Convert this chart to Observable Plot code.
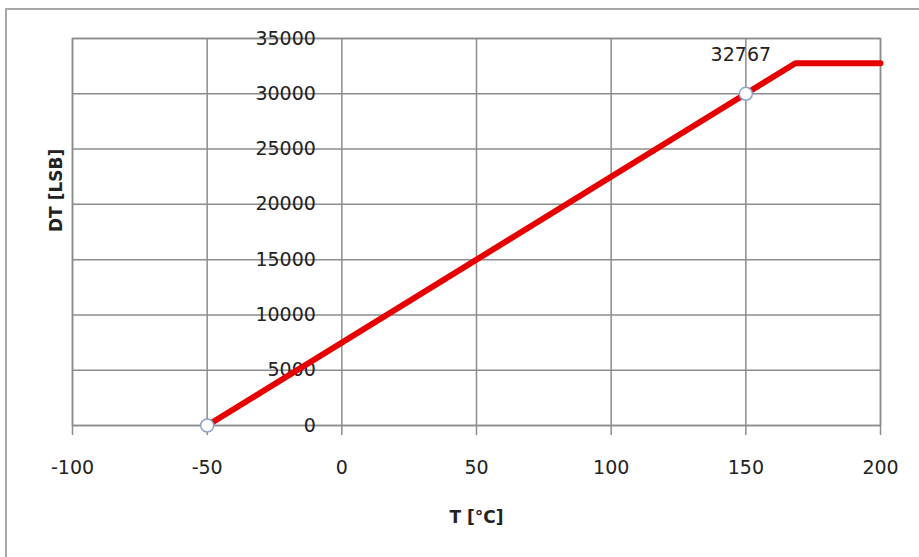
<!DOCTYPE html>
<html>
<head>
<meta charset="utf-8">
<script src="https://cdn.jsdelivr.net/npm/d3@7"></script>
<script src="https://cdn.jsdelivr.net/npm/@observablehq/plot@0.6"></script>
<style>
  html, body { margin: 0; padding: 0; background: #fff; }
  #wrap { position: relative; width: 919px; height: 557px; overflow: hidden; }
  #border { position: absolute; left: 5px; top: 8px; right: -10px; bottom: -10px;
            border-top: 2px solid #a8a8a8; border-left: 2px solid #a8a8a8; pointer-events: none; }
</style>
</head>
<body>
<div id="wrap"><div id="border"></div></div>
<script>
// Series: temperature T [°C] vs digital output DT [LSB]
const T  = [-50, 150, 168.4, 200];
const DT = [0, 30000, 32767, 32767];
// Marked points (hollow circles)
const markT  = [-50, 150];
const markDT = [0, 30000];
// Annotation
const labelT = [150];
const labelDT = [30000];
const labelText = ["32767"];
// Ticks
const xTicks = [-100, -50, 0, 50, 100, 150, 200];
const yTicks = [0, 5000, 10000, 15000, 20000, 25000, 30000, 35000];

const line = T.map((t, i) => ({T: t, DT: DT[i]}));
const marks = markT.map((t, i) => ({T: t, DT: markDT[i]}));
const labels = labelT.map((t, i) => ({T: t, DT: labelDT[i], text: labelText[i]}));

const grid = "#8c8c8c";

const chart = Plot.plot({
  width: 919,
  height: 557,
  marginLeft: 72,
  marginRight: 39,
  marginTop: 38,
  marginBottom: 132,
  style: {fontFamily: "DejaVu Sans", fontSize: "19px", color: "#222", background: "transparent"},
  x: {domain: [-100, 200], ticks: xTicks},
  y: {domain: [0, 35000], ticks: yTicks},
  marks: [
    Plot.gridX(xTicks, {stroke: grid, strokeOpacity: 1, strokeWidth: 1.5}),
    Plot.gridY(yTicks, {stroke: grid, strokeOpacity: 1, strokeWidth: 1.5}),
    Plot.frame({stroke: grid, strokeWidth: 1.5}),
    Plot.axisX(xTicks, {tickSize: 10, tickPadding: 25, stroke: grid, strokeWidth: 1.5, label: null, fill: "#222", tickFormat: d => String(d)}),
    Plot.axisY(yTicks, {tickSize: 0, label: null, text: () => ""}),
    Plot.text(yTicks, {x: () => 0, y: d => d, text: d => String(d), textAnchor: "end", dx: -26, fill: "#222"}),
    Plot.line(line, {x: "T", y: "DT", stroke: "#e60000", strokeWidth: 6}),
    Plot.dot(marks, {x: "T", y: "DT", r: 6.5, fill: "white", stroke: "#8aa2c8", strokeWidth: 1.5}),
    Plot.text(labels, {x: "T", y: "DT", text: "text", dx: -5, dy: -39, fill: "#222"}),
    Plot.text(["T [°C]"], {frameAnchor: "bottom", text: d => d, dy: 97, fontWeight: "bold", fontSize: 17, fill: "#222"}),
    Plot.text(["DT [LSB]"], {frameAnchor: "left", text: d => d, rotate: -90, dx: -16, fontWeight: "bold", fontSize: 17, fill: "#222"})
  ]
});
document.getElementById("wrap").prepend(chart);
</script>
</body>
</html>
